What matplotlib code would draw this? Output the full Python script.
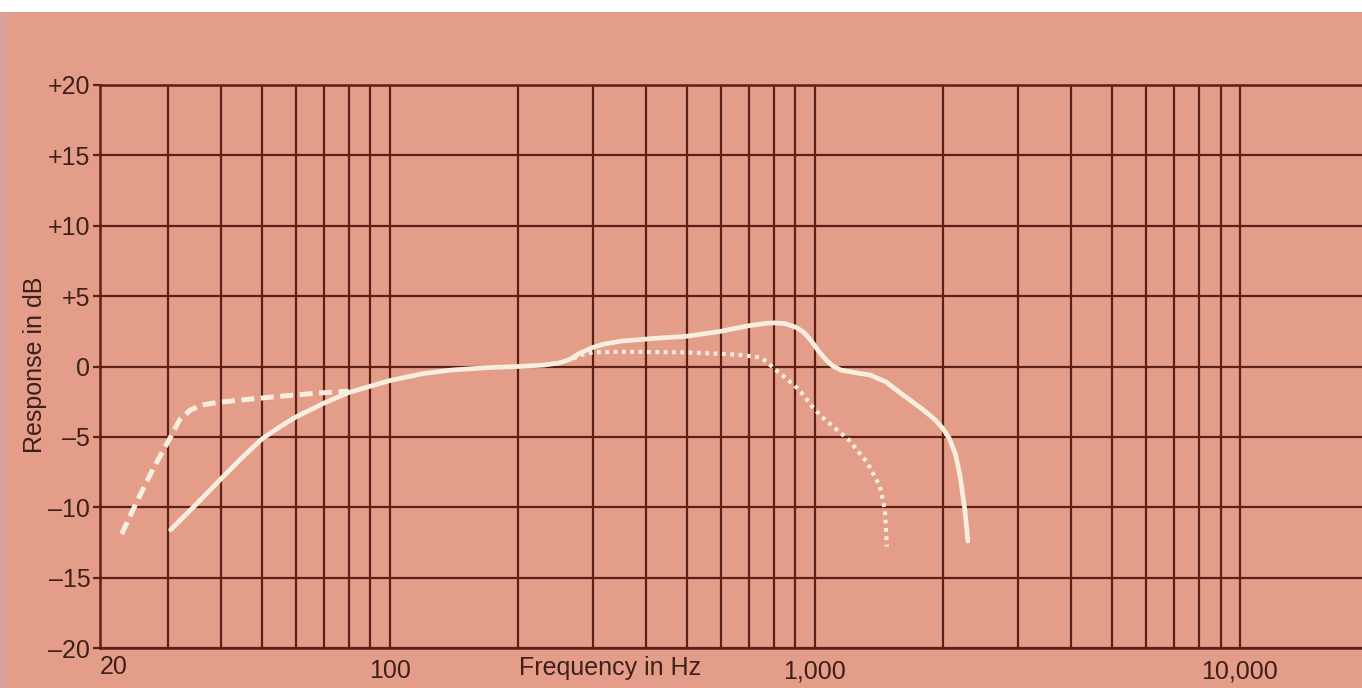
import matplotlib
matplotlib.use("Agg")
import matplotlib.pyplot as plt
from matplotlib.patches import Rectangle
from matplotlib.ticker import LogLocator, FixedLocator, NullFormatter

# ---- data ----
solid_freq = [30.5, 35, 40, 45, 50, 55, 60, 70, 80, 90, 100, 120, 140, 170, 200, 230, 250, 265,
              280, 300, 320, 350, 420, 500, 600, 700, 760, 800, 850, 900, 940, 973, 1020,
              1060, 1100, 1150, 1250, 1347, 1470, 1584, 1794, 1920, 2000, 2070, 2140, 2193,
              2254, 2290]
solid_db = [-11.6, -9.8, -8.0, -6.45, -5.15, -4.3, -3.6, -2.6, -1.85, -1.4, -1.0, -0.5, -0.25,
            -0.08, 0.0, 0.1, 0.25, 0.5, 0.95, 1.35, 1.6, 1.8, 2.0, 2.15, 2.5, 2.9, 3.05, 3.1,
            3.05, 2.8, 2.45, 1.95, 1.1, 0.5, 0.05, -0.25, -0.45, -0.6, -1.1, -1.85, -3.05,
            -3.8, -4.4, -5.1, -6.2, -7.7, -10.2, -12.4]

dashed_freq = [23.4, 25.3, 27.7, 30.5, 32, 33.9, 36, 39.2, 46, 56, 67, 80]
dashed_db = [-11.9, -9.7, -7.3, -5.0, -3.8, -3.1, -2.75, -2.56, -2.34, -2.1, -1.9, -1.75]

dotted_freq = [270, 280, 300, 348, 500, 655, 742, 770, 796, 860, 922, 989, 1040, 1127, 1200,
               1326, 1422, 1461, 1477]
dotted_db = [0.55, 0.8, 1.0, 1.05, 1.0, 0.85, 0.65, 0.35, -0.07, -0.9, -1.7, -2.9, -3.6,
             -4.5, -5.2, -6.8, -8.5, -10.2, -12.8]

y_ticks = [-20, -15, -10, -5, 0, 5, 10, 15, 20]
y_labels = ["\u201320", "\u201315", "\u201310", "\u20135", "0", "+5", "+10", "+15", "+20"]
x_ticks = [20, 100, 1000, 10000]
x_labels = ["20", "100", "1,000", "10,000"]

# ---- style ----
BG = "#E49D89"
GRID = "#5C2116"
TXT = "#3E2019"
CURVE = "#F7EEDD"

plt.rcParams["font.family"] = ["Liberation Sans", "DejaVu Sans"]

fig = plt.figure(figsize=(13.62, 6.88), dpi=100)
fig.patch.set_facecolor(BG)
fig.patches.append(Rectangle((0, 1 - 12 / 688), 1, 12 / 688, transform=fig.transFigure,
                             facecolor="white", edgecolor="none", zorder=0))
fig.patches.append(Rectangle((0, 0), 7 / 1362, 1 - 12 / 688, transform=fig.transFigure,
                             facecolor="#D9A39B", edgecolor="none", zorder=0))

left = 100 / 1362
bottom = 1 - 648 / 688
top = 1 - 85 / 688
ax = fig.add_axes([left, bottom, 1.0 - left, top - bottom])
ax.set_facecolor(BG)
ax.set_xscale("log")
ax.set_xlim(20.8, 19370)
ax.set_ylim(-20, 20)

# grid lines: every 1..9 x decade, every 5 dB
ax.xaxis.set_major_locator(FixedLocator(x_ticks))
ax.xaxis.set_minor_locator(LogLocator(base=10, subs=range(2, 10), numticks=20))
ax.xaxis.set_minor_formatter(NullFormatter())
ax.set_xticklabels(x_labels)
ax.set_yticks(y_ticks)
ax.set_yticklabels(y_labels)

ax.grid(True, which="both", axis="x", color=GRID, linewidth=1.6)
ax.grid(True, which="major", axis="y", color=GRID, linewidth=1.6)
ax.set_axisbelow(True)

for side in ["left", "bottom", "top"]:
    ax.spines[side].set_color(GRID)
    ax.spines[side].set_linewidth(1.8)
ax.spines["right"].set_visible(False)

ax.tick_params(axis="x", which="both", length=0, pad=8, labelsize=18, labelcolor=TXT)
ax.tick_params(axis="y", which="major", length=5, width=1.6, color=GRID, pad=2,
               labelsize=18, labelcolor=TXT)
# the "20" label sits just right of the left edge
ax.get_xticklabels()[0].set_clip_on(False)
x20 = ax.get_xticklabels()[0]
x20.set_visible(False)
ax.text(0.0, -0.012, x_labels[0], transform=ax.transAxes, ha="left", va="top",
        fontsize=18, color=TXT)

# curves
ax.plot(solid_freq, solid_db, color=CURVE, linewidth=3.4, solid_capstyle="round",
        solid_joinstyle="round", zorder=3)
ax.plot(dashed_freq, dashed_db, color=CURVE, linewidth=3.6, linestyle=(0, (2.6, 1.3)),
        zorder=3)
ax.plot(dotted_freq, dotted_db, color=CURVE, linewidth=3.0, linestyle=(0, (0.9, 1.1)),
        zorder=3)

fig.text(610 / 1362, 1 - 668 / 688, "Frequency in Hz", ha="center", va="center",
         fontsize=18, color=TXT)
fig.text(35 / 1362, 1 - 365 / 688, "Response in dB", ha="center", va="center",
         rotation=90, fontsize=18, color=TXT)

fig.savefig("out.png", dpi=100, facecolor=fig.get_facecolor())
